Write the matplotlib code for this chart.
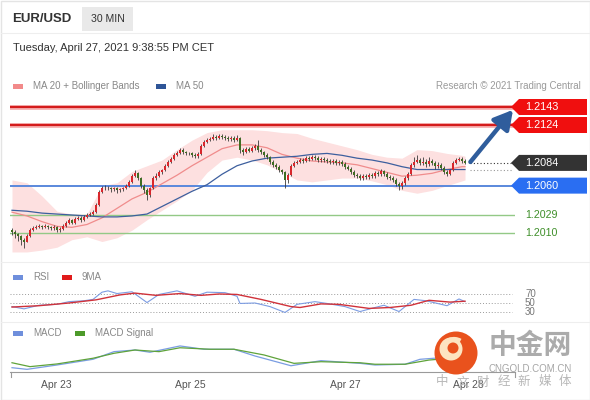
import numpy as np
import matplotlib
matplotlib.use("Agg")
import matplotlib.pyplot as plt
from matplotlib.patches import Rectangle, Polygon, Circle, Arc
from matplotlib.transforms import blended_transform_factory

plt.rcParams['font.family'] = ['Liberation Sans', 'Noto Sans CJK SC', 'DejaVu Sans']

# ---- data (30 min EUR/USD candles) ----
first_open = 1.2013
closes = [1.2011, 1.2009, 1.2007, 1.2003, 1.2001, 1.2007, 1.2013, 1.2015, 1.2016, 1.2017,
          1.2016, 1.2017, 1.2016, 1.2015, 1.2016, 1.2013, 1.2014, 1.2017, 1.2021, 1.2024,
          1.2021, 1.2025, 1.2026, 1.2024, 1.2027, 1.2029, 1.2030, 1.2032, 1.2040, 1.2053,
          1.2057, 1.2058, 1.2057, 1.2056, 1.2057, 1.2055, 1.2056, 1.2057, 1.2060, 1.2064,
          1.2070, 1.2073, 1.2068, 1.2060, 1.2055, 1.2050, 1.2057, 1.2068, 1.2070, 1.2074,
          1.2076, 1.2081, 1.2085, 1.2088, 1.2092, 1.2094, 1.2098, 1.2095, 1.2094, 1.2094,
          1.2092, 1.2091, 1.2093, 1.2102, 1.2106, 1.2108, 1.2109, 1.2111, 1.2110, 1.2112,
          1.2111, 1.2110, 1.2109, 1.2110, 1.2108, 1.2110, 1.2098, 1.2095, 1.2099, 1.2097,
          1.2100, 1.2102, 1.2098, 1.2095, 1.2092, 1.2090, 1.2085, 1.2082, 1.2080, 1.2076,
          1.2074, 1.2066, 1.2071, 1.2081, 1.2084, 1.2085, 1.2087, 1.2086, 1.2089, 1.2088,
          1.2090, 1.2089, 1.2087, 1.2088, 1.2087, 1.2086, 1.2085, 1.2086, 1.2084, 1.2085,
          1.2083, 1.2080, 1.2078, 1.2074, 1.2071, 1.2070, 1.2068, 1.2070, 1.2069, 1.2071,
          1.2070, 1.2073, 1.2072, 1.2075, 1.2072, 1.2069, 1.2068, 1.2066, 1.2062, 1.2060,
          1.2063, 1.2068, 1.2072, 1.2082, 1.2085, 1.2087, 1.2084, 1.2085, 1.2083, 1.2086,
          1.2084, 1.2081, 1.2082, 1.2079, 1.2074, 1.2072, 1.2076, 1.2084, 1.2087, 1.2088,
          1.2086, 1.2084]
highs = [1.2015, 1.2013, 1.2010, 1.2008, 1.2005, 1.2009, 1.2015, 1.2017, 1.2018, 1.2019,
         1.2018, 1.2019, 1.2018, 1.2017, 1.2018, 1.2017, 1.2016, 1.2019, 1.2023, 1.2026,
         1.2025, 1.2027, 1.2028, 1.2028, 1.2029, 1.2031, 1.2032, 1.2034, 1.2042, 1.2055,
         1.2060, 1.2061, 1.2060, 1.2059, 1.2059, 1.2059, 1.2058, 1.2059, 1.2062, 1.2066,
         1.2072, 1.2076, 1.2074, 1.2069, 1.2062, 1.2057, 1.2059, 1.2070, 1.2073, 1.2076,
         1.2078, 1.2083, 1.2087, 1.2090, 1.2094, 1.2097, 1.2100, 1.2100, 1.2097, 1.2096,
         1.2096, 1.2094, 1.2095, 1.2104, 1.2108, 1.2110, 1.2111, 1.2114, 1.2113, 1.2115,
         1.2114, 1.2113, 1.2112, 1.2112, 1.2112, 1.2113, 1.2111, 1.2100, 1.2101, 1.2101,
         1.2102, 1.2104, 1.2108, 1.2100, 1.2097, 1.2094, 1.2091, 1.2087, 1.2084, 1.2082,
         1.2078, 1.2075, 1.2073, 1.2083, 1.2086, 1.2087, 1.2089, 1.2089, 1.2091, 1.2091,
         1.2092, 1.2092, 1.2091, 1.2090, 1.2090, 1.2089, 1.2088, 1.2088, 1.2088, 1.2087,
         1.2087, 1.2085, 1.2082, 1.2080, 1.2076, 1.2073, 1.2072, 1.2072, 1.2072, 1.2073,
         1.2073, 1.2075, 1.2075, 1.2078, 1.2077, 1.2074, 1.2071, 1.2070, 1.2068, 1.2064,
         1.2065, 1.2070, 1.2074, 1.2084, 1.2090, 1.2092, 1.2089, 1.2090, 1.2088, 1.2090,
         1.2088, 1.2086, 1.2085, 1.2084, 1.2081, 1.2076, 1.2078, 1.2086, 1.2089, 1.2090,
         1.2090, 1.2088]
lows = [1.2008, 1.2005, 1.2002, 1.1997, 1.1994, 1.2000, 1.2006, 1.2012, 1.2014, 1.2015,
        1.2014, 1.2015, 1.2014, 1.2013, 1.2013, 1.2011, 1.2011, 1.2013, 1.2016, 1.2020,
        1.2019, 1.2020, 1.2024, 1.2022, 1.2023, 1.2026, 1.2028, 1.2029, 1.2031, 1.2039,
        1.2052, 1.2055, 1.2055, 1.2053, 1.2054, 1.2052, 1.2053, 1.2054, 1.2056, 1.2059,
        1.2063, 1.2069, 1.2066, 1.2058, 1.2052, 1.2045, 1.2048, 1.2056, 1.2066, 1.2069,
        1.2072, 1.2075, 1.2080, 1.2084, 1.2087, 1.2091, 1.2093, 1.2093, 1.2092, 1.2092,
        1.2090, 1.2089, 1.2089, 1.2092, 1.2101, 1.2105, 1.2107, 1.2108, 1.2108, 1.2109,
        1.2109, 1.2108, 1.2107, 1.2107, 1.2106, 1.2107, 1.2094, 1.2092, 1.2094, 1.2095,
        1.2095, 1.2098, 1.2096, 1.2093, 1.2090, 1.2088, 1.2083, 1.2080, 1.2078, 1.2074,
        1.2072, 1.2058, 1.2063, 1.2070, 1.2080, 1.2083, 1.2084, 1.2084, 1.2085, 1.2086,
        1.2087, 1.2087, 1.2085, 1.2085, 1.2085, 1.2084, 1.2083, 1.2083, 1.2082, 1.2082,
        1.2081, 1.2078, 1.2076, 1.2072, 1.2069, 1.2068, 1.2066, 1.2066, 1.2067, 1.2067,
        1.2068, 1.2068, 1.2070, 1.2070, 1.2070, 1.2067, 1.2066, 1.2064, 1.2060, 1.2055,
        1.2056, 1.2061, 1.2066, 1.2071, 1.2080, 1.2084, 1.2082, 1.2082, 1.2080, 1.2081,
        1.2082, 1.2078, 1.2079, 1.2077, 1.2072, 1.2070, 1.2071, 1.2075, 1.2083, 1.2086,
        1.2084, 1.2083]

# indicators, sampled every 5 bars
ind_bars = [0, 5, 10, 15, 20, 25, 30, 35, 40, 45, 50, 55, 60, 65, 70, 75,
            80, 85, 90, 95, 100, 105, 110, 115, 120, 125, 130, 135, 140, 145, 150, 151]
ma20 = [1.2032, 1.2028, 1.2022, 1.2017, 1.2016, 1.2019, 1.2026, 1.2036, 1.2046, 1.2053,
        1.2062, 1.2071, 1.2081, 1.2090, 1.2099, 1.2103, 1.2103, 1.2100, 1.2093, 1.2089,
        1.2086, 1.2085, 1.2084, 1.2082, 1.2078, 1.2074, 1.2070, 1.2071, 1.2073, 1.2077,
        1.2080, 1.2080]
ma50 = [1.2034, 1.2033, 1.2031, 1.2030, 1.2029, 1.2028, 1.2027, 1.2027, 1.2028, 1.2030,
        1.2038, 1.2046, 1.2054, 1.2061, 1.2072, 1.2081, 1.2086, 1.2089, 1.2090, 1.2091,
        1.2093, 1.2094, 1.2092, 1.2089, 1.2087, 1.2084, 1.2080, 1.2077, 1.2077, 1.2077,
        1.2077, 1.2077]
bb_upper = [1.2066, 1.2063, 1.2049, 1.2033, 1.2030, 1.2030, 1.2060, 1.2063, 1.2075, 1.2081,
            1.2087, 1.2098, 1.2108, 1.2116, 1.2119, 1.2119, 1.2119, 1.2118, 1.2116, 1.2115,
            1.2110, 1.2106, 1.2102, 1.2098, 1.2093, 1.2090, 1.2089, 1.2098, 1.2097, 1.2094,
            1.2092, 1.2091]
bb_lower = [1.1990, 1.1990, 1.1992, 1.1995, 1.2003, 1.2006, 1.2001, 1.2005, 1.2013, 1.2024,
            1.2034, 1.2044, 1.2055, 1.2074, 1.2087, 1.2090, 1.2087, 1.2082, 1.2074, 1.2066,
            1.2064, 1.2066, 1.2068, 1.2068, 1.2065, 1.2061, 1.2055, 1.2052, 1.2055, 1.2060,
            1.2065, 1.2066]

rsi_bars = [0, 4, 9, 15, 19, 24, 27, 30, 32, 35, 40, 45, 49, 55, 61, 65, 71, 75, 76, 81,
            86, 91, 95, 101, 105, 111, 116, 121, 124, 129, 134, 138, 145, 149, 151]
rsi = [42, 37, 45, 47, 53, 55, 58, 74, 77, 71, 75, 51, 69, 77, 65, 74, 73, 65, 49, 50,
       42, 29, 47, 53, 49, 42, 31, 40, 45, 31, 58, 55, 44, 59, 53]
rsi_ma_bars = [0, 9, 19, 28, 36, 41, 48, 56, 63, 69, 75, 83, 93, 96, 103, 109, 119, 126,
               133, 139, 146, 151]
rsi_ma = [41, 44, 50, 57, 68, 72, 67, 71, 67, 70, 69, 58, 42, 40, 48, 47, 38, 40,
          45, 56, 52, 54]

macd_bars = [0, 5, 15, 27, 34, 41, 46, 56, 64, 74, 81, 93, 103, 116, 121, 131, 136, 142, 151]
macd = [-3.8, -4.9, -2.0, 1.8, 6.9, 8.0, 6.5, 10.7, 8.5, 8.5, 4.0, -2.5, 0.9, -0.9,
        -2.0, -1.5, 1.8, 2.7, 4.0]
signal_bars = [0, 6, 15, 27, 34, 41, 49, 56, 66, 74, 84, 94, 103, 116, 121, 131, 139, 151]
signal = [-0.5, -3.1, -1.3, 2.5, 5.8, 8.0, 6.9, 9.5, 8.5, 8.5, 4.7, -0.9, 0.2, -0.5,
          -1.5, -1.5, 1.3, 3.3]

resistances = [1.2143, 1.2124]
pivot = 1.2060
supports = [1.2029, 1.2010]
last_price = 1.2084
rsi_levels = [70, 50, 30]

date_labels = ['Apr 23', 'Apr 25', 'Apr 27', 'Apr 28']
date_pos = [14.7, 59.3, 111, 152]

# ---- figure ----
W, H = 590, 400
fig = plt.figure(figsize=(5.9, 4), dpi=100)
fig.patch.set_facecolor('white')


def px_rect(x0, y0, x1, y1):
    return [x0 / W, 1 - y1 / H, (x1 - x0) / W, (y1 - y0) / H]


def clean(a):
    for s in a.spines.values():
        s.set_visible(False)
    a.set_xticks([])
    a.set_yticks([])
    a.patch.set_alpha(0)


xlim = ((10 - 12) / 3, (515 - 12) / 3)

# main price panel
ax = fig.add_axes(px_rect(10, 95, 515, 255))
clean(ax)
ax.set_xlim(*xlim)
ax.set_ylim(1.2143 - 148 / 9474, 1.2143 + 12 / 9474)

ax.fill_between(ind_bars, bb_lower, bb_upper, color='#fde0e0', lw=0, zorder=1)
ax.plot(ind_bars, ma20, color='#f08c8c', lw=0.9, zorder=3)
ax.plot(ind_bars, ma50, color='#3d5f9e', lw=0.9, zorder=3)

for r in resistances:
    ax.axhline(r, color='#f7b3b3', lw=3.5, zorder=2)
    ax.axhline(r, color='#d41c1c', lw=1.6, zorder=2)
ax.axhline(pivot, color='#5a88dc', lw=1.4, zorder=2)
for s in supports:
    ax.axhline(s, color='#93c986', lw=1.0, zorder=2)

idx = np.arange(len(closes))
c = np.array(closes)
o = np.r_[first_open, c[:-1]]
cols = np.where(c > o, '#d8272c', '#3f6d22')
ax.vlines(idx, lows, highs, color='#3a3a3a', lw=0.6, zorder=4)
ax.bar(idx, np.maximum(np.abs(c - o), 0.00004), bottom=np.minimum(o, c),
       width=0.7, color=cols, lw=0, zorder=5)

# dotted leaders to the right
ax.plot([len(closes) + 0.5, 166.5], [last_price, last_price], ls=(0, (1, 2)),
        color='#333333', lw=0.8, zorder=3)
ax.plot([len(closes) + 0.5, 166.5], [ma50[-1], ma50[-1]], ls=(0, (1, 2)),
        color='#999999', lw=0.8, zorder=3)

ax.annotate('', xy=(167, 1.2140), xytext=(152.8, 1.2085),
            arrowprops=dict(arrowstyle='-|>,head_width=0.45,head_length=0.8',
                            color='#2f5d9c', lw=3.2, mutation_scale=14,
                            shrinkA=0, shrinkB=0),
            annotation_clip=False, zorder=6)

tr = blended_transform_factory(ax.transAxes, ax.transData)


def fx(p):
    return (p - 10) / 505


def tag(y, text, fc):
    h = 8 / 9474
    pts = [(fx(511), y), (fx(519), y + h), (fx(587), y + h), (fx(587), y - h), (fx(519), y - h)]
    ax.add_patch(Polygon(pts, closed=True, fc=fc, ec='none', transform=tr, clip_on=False, zorder=7))
    ax.text(fx(542), y, text, transform=tr, color='white', fontsize=7.8,
            ha='center', va='center', zorder=8, clip_on=False)


for r in resistances:
    tag(r, f'{r:.4f}', '#f00f0f')
tag(last_price, f'{last_price:.4f}', '#333333')
tag(pivot, f'{pivot:.4f}', '#2a6ef2')
for s in supports:
    ax.text(fx(525), s, f'{s:.4f}', transform=tr, color='#3f8f2a', fontsize=7.7,
            ha='left', va='center', clip_on=False)

# RSI panel
ar = fig.add_axes(px_rect(10, 287, 515, 316))
clean(ar)
ar.set_xlim(*xlim)
ar.set_ylim(30 - 4 / 0.45, 70 + 7 / 0.45)
for lv in rsi_levels:
    ar.plot([xlim[0], 166.5], [lv, lv], ls=(0, (1, 2)), color='#9a9a9a', lw=0.7)
    ar.text(fx(525), lv, str(lv), transform=blended_transform_factory(ar.transAxes, ar.transData),
            fontsize=7, color='#777777', ha='left', va='center', clip_on=False)
ar.plot(rsi_bars, rsi, color='#7c9ce2', lw=0.8)
ar.plot(rsi_ma_bars, rsi_ma, color='#d0323a', lw=1.0)

# MACD panel
am = fig.add_axes(px_rect(10, 340, 515, 372))
for s in am.spines.values():
    s.set_visible(False)
am.spines['bottom'].set_visible(True)
am.spines['bottom'].set_color('#9a9a9a')
am.patch.set_alpha(0)
am.set_xlim(*xlim)
am.set_ylim(-6.67, 14.67)
am.set_yticks([])
am.set_xticks(date_pos)
am.set_xticklabels(date_labels, fontsize=7.5, color='#555555')
am.tick_params(axis='x', length=0, pad=6)
am.plot(macd_bars, macd, color='#7a9de2', lw=0.9)
am.plot(signal_bars, signal, color='#5fa33a', lw=0.9)

# overlay in pixel coordinates: header, legends, watermark
ov = fig.add_axes([0, 0, 1, 1], zorder=10)
ov.set_xlim(0, W)
ov.set_ylim(H, 0)
ov.axis('off')
ov.patch.set_alpha(0)

ov.add_patch(Rectangle((0.5, 0.5), W - 1, H - 1, fill=False, ec='#e4e4e4', lw=1))
for yy in (33, 262, 322):
    ov.plot([1, W - 1], [yy, yy], color='#eeeeee', lw=0.8)
for xx in (11, 515):
    ov.plot([xx, xx], [372, 377], color='#9a9a9a', lw=0.8)

ov.text(12, 18.5, 'EUR/USD', fontsize=9.5, fontweight='bold', color='#333333', va='center')
ov.add_patch(Rectangle((82, 7), 51, 24, fc='#e9e9e9', ec='none'))
ov.text(107.5, 19, '30 MIN', fontsize=7.6, color='#333333', ha='center', va='center')
ov.text(13, 48, 'Tuesday, April 27, 2021 9:38:55 PM CET', fontsize=8, color='#333333', va='center')

ov.text(581, 86, 'Research \u00a9 2021 Trading Central', fontsize=7, color='#9a9a9a',
        ha='right', va='center')


def legend_item(x, y, color, label):
    ov.add_patch(Rectangle((x, y - 2.5), 10, 5, fc=color, ec='none'))
    ov.text(x + 20, y, label, fontsize=7, color='#888888', va='center')


legend_item(13, 86, '#f28a8a', 'MA 20 + Bollinger Bands')
legend_item(156, 86, '#2f5597', 'MA 50')
legend_item(13, 277, '#6f8fdc', 'RSI')
legend_item(62, 277, '#e01b1b', '9MA')
legend_item(13, 333, '#6f8fdc', 'MACD')
legend_item(75, 333, '#4d9a2a', 'MACD Signal')

# cngold watermark
ov.add_patch(Circle((456, 353), 21.5, fc='#e9521d', ec='none'))
ov.add_patch(Circle((451, 349), 11.5, fc='#fde4c0', ec='none'))
ov.add_patch(Circle((453, 348), 5.5, fc='#e9521d', ec='none'))
ov.add_patch(Arc((454, 352), 26, 26, theta1=200, theta2=300, color='#fde4c0', lw=3))
ov.text(530, 346, '中金网', family=['Noto Sans CJK SC'], fontsize=20, fontweight='bold',
        color='#ababab', ha='center', va='center')
ov.text(530, 369, 'CNGOLD.COM.CN', fontsize=7, color='#a5a5a5', ha='center', va='center')
for k, ch in enumerate('中文财经新媒体'):
    ov.text(442 + 20.5 * k, 382, ch, family=['Noto Sans CJK SC'], fontsize=9,
            color='#b8b8b8', ha='center', va='center')

fig.savefig('out.png', dpi=100)
